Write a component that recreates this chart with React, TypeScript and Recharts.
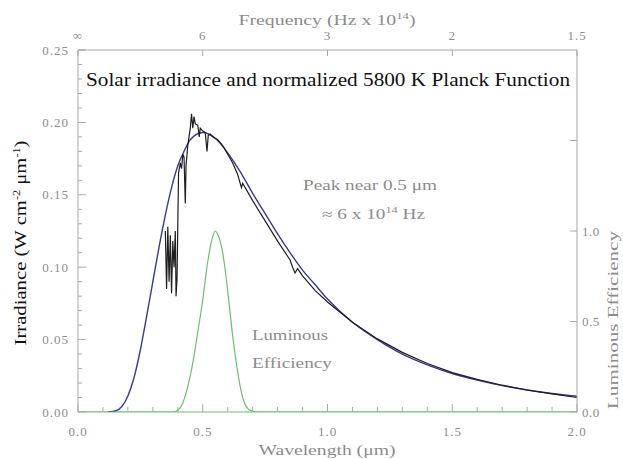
import React from 'react'
import { LineChart, Line, XAxis, YAxis } from 'recharts'

// normalized 5800 K Planck function (W cm^-2 um^-1)
const planckWl = [0.12, 0.15, 0.175, 0.2, 0.225, 0.25, 0.275, 0.3, 0.325, 0.35, 0.375, 0.4, 0.425, 0.45, 0.5, 0.55, 0.6, 0.65, 0.7, 0.75, 0.8, 0.85, 0.9, 0.95, 1.0, 1.1, 1.2, 1.3, 1.4, 1.5, 1.6, 1.7, 1.8, 1.9, 2.0]
const planckIrr = [0, 0.0007, 0.0036, 0.011, 0.024, 0.043, 0.066, 0.09, 0.114, 0.136, 0.155, 0.17, 0.18, 0.188, 0.193, 0.189, 0.179, 0.166, 0.151, 0.137, 0.123, 0.11, 0.098, 0.088, 0.078, 0.062, 0.05, 0.04, 0.0326, 0.0266, 0.022, 0.0182, 0.0152, 0.0128, 0.0109]

// measured solar irradiance
const solarWl = [0.35, 0.355, 0.36, 0.365, 0.37, 0.375, 0.38, 0.385, 0.39, 0.393, 0.397, 0.4, 0.403, 0.41, 0.415, 0.42, 0.425, 0.43, 0.433, 0.44, 0.45, 0.455, 0.46, 0.465, 0.47, 0.48, 0.486, 0.49, 0.5, 0.51, 0.517, 0.522, 0.53, 0.54, 0.56, 0.58, 0.6, 0.62, 0.64, 0.655, 0.66, 0.68, 0.7, 0.75, 0.8, 0.85, 0.86, 0.87, 0.88, 0.9, 0.95, 1.0, 1.1, 1.2, 1.3, 1.4, 1.5, 1.6, 1.7, 1.8, 1.9, 2.0]
const solarIrr = [0.125, 0.085, 0.128, 0.09, 0.122, 0.082, 0.118, 0.1, 0.125, 0.08, 0.092, 0.13, 0.165, 0.172, 0.168, 0.178, 0.176, 0.144, 0.17, 0.184, 0.196, 0.206, 0.196, 0.204, 0.199, 0.198, 0.19, 0.196, 0.194, 0.193, 0.18, 0.191, 0.192, 0.19, 0.188, 0.184, 0.178, 0.172, 0.164, 0.155, 0.158, 0.152, 0.146, 0.132, 0.118, 0.105, 0.1, 0.096, 0.099, 0.094, 0.084, 0.076, 0.062, 0.0505, 0.0412, 0.0335, 0.0272, 0.0225, 0.0185, 0.0152, 0.0125, 0.01]

// luminous efficiency (right axis)
const lumWl = [0.0, 0.36, 0.38, 0.4, 0.42, 0.44, 0.46, 0.48, 0.5, 0.52, 0.54, 0.55, 0.56, 0.58, 0.6, 0.62, 0.64, 0.66, 0.68, 0.7, 0.72, 2.0]
const lumEff = [0, 0, 0, 0.01, 0.05, 0.14, 0.27, 0.44, 0.62, 0.83, 0.97, 1.0, 0.98, 0.88, 0.67, 0.42, 0.22, 0.08, 0.02, 0.003, 0, 0]

const wlLabels = ['0.0', '0.5', '1.0', '1.5', '2.0']
const freqTicks = [0, 0.5, 1, 1.5, 2]
const freqLabels = ['\u221e', '6', '3', '2', '1.5']
const irrLabels = ['0.00', '0.05', '0.10', '0.15', '0.20', '0.25']
const lumTicks = [0, 0.5, 1, 1.5]
const lumLabels = ['0.0', '0.5', '1.0', '']

const wlTicks = Array.from({ length: 21 }, (_, i) => i / 10)
const irrTicks = Array.from({ length: 26 }, (_, i) => i / 100)

const planckData = planckWl.map((wl, i) => ({ wl, irr: planckIrr[i] }))
const solarData = solarWl.map((wl, i) => ({ wl, irr: solarIrr[i] }))
const lumData = lumWl.map((wl, i) => ({ wl, lum: lumEff[i] }))

const axisColor = '#a8a8a8'
const lumColor = '#6cc06c'
const labelColor = '#8c8c8c'
const labelFont = '"Liberation Serif", serif'

const isStep = (v: number, step: number) => Math.abs(v / step - Math.round(v / step)) < 1e-6

const BottomTick = (props: any) => {
    const { x, y, payload } = props
    const v = payload.value
    const major = isStep(v, 0.5)
    return (
        <g>
            <line x1={x} x2={x} y1={y} y2={y - (major ? 8 : 5)} stroke={axisColor} />
            {major && (
                <text x={x} y={y + 24} textAnchor='middle' fontSize={13} fill={labelColor} fontFamily={labelFont} letterSpacing={1}>
                    {wlLabels[Math.round(v / 0.5)]}
                </text>
            )}
        </g>
    )
}

const TopTick = (props: any) => {
    const { x, y, payload } = props
    return (
        <g>
            <line x1={x} x2={x} y1={y} y2={y + 6} stroke={axisColor} />
            <text x={x} y={y - 10} textAnchor='middle' fontSize={13} fill={labelColor} fontFamily={labelFont} letterSpacing={1}>
                {freqLabels[freqTicks.indexOf(payload.value)]}
            </text>
        </g>
    )
}

const LeftTick = (props: any) => {
    const { x, y, payload } = props
    const v = payload.value
    const major = isStep(v, 0.05)
    return (
        <g>
            <line x1={x} x2={x + (major ? 8 : 4)} y1={y} y2={y} stroke={axisColor} />
            {major && (
                <text x={x - 9} y={y + 4.5} textAnchor='end' fontSize={13} fill={labelColor} fontFamily={labelFont} letterSpacing={1}>
                    {irrLabels[Math.round(v / 0.05)]}
                </text>
            )}
        </g>
    )
}

const RightTick = (props: any) => {
    const { x, y, payload } = props
    return (
        <g>
            <line x1={x} x2={x - 7} y1={y} y2={y} stroke={axisColor} />
            <text x={x + 5} y={y + 4.5} textAnchor='start' fontSize={13} fill={labelColor} fontFamily={labelFont} letterSpacing={0.5}>
                {lumLabels[lumTicks.indexOf(payload.value)]}
            </text>
        </g>
    )
}

export default function App() {
    const grey = { fontFamily: labelFont, fontSize: 14, fill: labelColor }
    return (
        <div style={{ position: 'absolute', left: 0, top: 0, width: 623, height: 459, background: '#fff' }}>
            <LineChart width={623} height={459} margin={{ top: 0, right: 0, left: 0, bottom: 0 }}>
                <XAxis
                    dataKey='wl'
                    type='number'
                    domain={[0, 2]}
                    ticks={wlTicks}
                    interval={0}
                    height={47}
                    tickSize={0}
                    tickMargin={0}
                    tickLine={false}
                    axisLine={{ stroke: lumColor, strokeWidth: 1.2 }}
                    tick={<BottomTick />}
                    allowDataOverflow
                />
                <XAxis
                    xAxisId='top'
                    orientation='top'
                    dataKey='wl'
                    type='number'
                    domain={[0, 2]}
                    ticks={freqTicks}
                    interval={0}
                    height={50}
                    tickSize={0}
                    tickMargin={0}
                    tickLine={false}
                    axisLine={{ stroke: axisColor }}
                    tick={<TopTick />}
                    allowDataOverflow
                />
                <YAxis
                    yAxisId='irr'
                    type='number'
                    domain={[0, 0.25]}
                    ticks={irrTicks}
                    interval={0}
                    width={78}
                    tickSize={0}
                    tickMargin={0}
                    tickLine={false}
                    axisLine={{ stroke: axisColor }}
                    tick={<LeftTick />}
                    allowDataOverflow
                />
                <YAxis
                    yAxisId='lum'
                    orientation='right'
                    type='number'
                    domain={[0, 2]}
                    ticks={lumTicks}
                    interval={0}
                    width={46}
                    tickSize={0}
                    tickMargin={0}
                    tickLine={false}
                    axisLine={{ stroke: axisColor }}
                    tick={<RightTick />}
                    allowDataOverflow
                />
                <Line
                    data={lumData}
                    yAxisId='lum'
                    dataKey='lum'
                    type='monotone'
                    stroke={lumColor}
                    strokeWidth={1.2}
                    dot={false}
                    isAnimationActive={false}
                />
                <Line
                    data={planckData}
                    yAxisId='irr'
                    dataKey='irr'
                    type='monotone'
                    stroke='#3a3a8e'
                    strokeWidth={1.4}
                    dot={false}
                    isAnimationActive={false}
                />
                <Line
                    data={solarData}
                    yAxisId='irr'
                    dataKey='irr'
                    type='linear'
                    stroke='#1e1e1e'
                    strokeWidth={1.2}
                    dot={false}
                    isAnimationActive={false}
                />
            </LineChart>
            <svg width={623} height={459} style={{ position: 'absolute', left: 0, top: 0, pointerEvents: 'none' }}>
                <text x={327} y={25} textAnchor='middle' {...grey} textLength={177} lengthAdjust='spacingAndGlyphs'>
                    Frequency (Hz x 10<tspan fontSize={9} dy={-6}>14</tspan><tspan dy={6}>)</tspan>
                </text>
                <text x={328} y={86} textAnchor='middle' fontFamily={labelFont} fontSize={18} fill='#111' textLength={484} lengthAdjust='spacingAndGlyphs'>
                    Solar irradiance and normalized 5800 K Planck Function
                </text>
                <text transform='translate(26,243) rotate(-90)' textAnchor='middle' fontFamily={labelFont} fontSize={17} fill='#111' textLength={205} lengthAdjust='spacingAndGlyphs'>
                    Irradiance (W cm<tspan fontSize={10} dy={-6}>-2</tspan><tspan dy={6}> {'\u03bc'}m</tspan><tspan fontSize={10} dy={-6}>-1</tspan><tspan dy={6}>)</tspan>
                </text>
                <text x={327} y={455} textAnchor='middle' {...grey} textLength={137} lengthAdjust='spacingAndGlyphs'>
                    Wavelength ({'\u03bc'}m)
                </text>
                <text x={303} y={190} {...grey} textLength={134} lengthAdjust='spacingAndGlyphs'>
                    Peak near 0.5 {'\u03bc'}m
                </text>
                <text x={322} y={219} {...grey} textLength={103} lengthAdjust='spacingAndGlyphs'>
                    {'\u2248'} 6 x 10<tspan fontSize={9} dy={-6}>14</tspan><tspan dy={6}> Hz</tspan>
                </text>
                <text x={252} y={340} {...grey} textLength={76} lengthAdjust='spacingAndGlyphs'>
                    Luminous
                </text>
                <text x={252} y={368} {...grey} textLength={80} lengthAdjust='spacingAndGlyphs'>
                    Efficiency
                </text>
                <text transform='translate(618,320) rotate(-90)' textAnchor='middle' {...grey} textLength={178} lengthAdjust='spacingAndGlyphs'>
                    Luminous Efficiency
                </text>
            </svg>
        </div>
    )
}
